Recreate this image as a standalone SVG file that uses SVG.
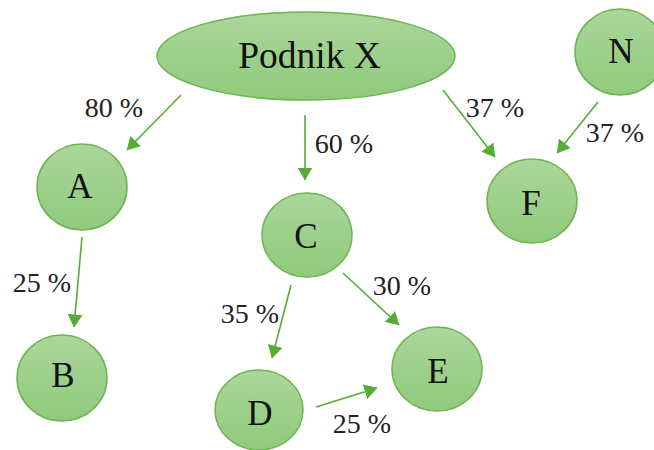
<svg xmlns="http://www.w3.org/2000/svg" width="654" height="450" viewBox="0 0 654 450">
<defs>
<linearGradient id="g" x1="0" y1="0" x2="0" y2="1">
<stop offset="0" stop-color="#acd69b"/>
<stop offset="1" stop-color="#8fca7c"/>
</linearGradient>
<marker id="ah" viewBox="0 0 13 15" refX="12.5" refY="7.5" markerWidth="13" markerHeight="15" markerUnits="userSpaceOnUse" orient="auto">
<path d="M0,0 L13,7.5 L0,15 Z" fill="#55ad38"/>
</marker>
</defs>
<style>
.n{fill:url(#g);stroke:#6cb550;stroke-width:1.5}
.t{font-family:"Liberation Serif","DejaVu Serif",serif;font-size:35px;fill:#111;text-anchor:middle}
.px{font-size:37.5px}
.l{font-family:"Liberation Serif","DejaVu Serif",serif;font-size:28px;fill:#222;text-anchor:middle}
.c line{stroke:#55ad38;stroke-width:1.6;marker-end:url(#ah)}
</style>
<rect width="654" height="450" fill="#fff"/>
<g id="podnikX"><ellipse class="n" cx="306" cy="56" rx="149" ry="44"/><text class="t px" x="309.5" y="68">Podnik X</text></g>
<g id="A"><ellipse class="n" cx="82" cy="187" rx="45" ry="43"/><text class="t" x="80" y="198">A</text></g>
<g id="B"><ellipse class="n" cx="62" cy="378" rx="45" ry="43"/><text class="t" x="63" y="387">B</text></g>
<g id="C"><ellipse class="n" cx="307" cy="235" rx="45" ry="42"/><text class="t" x="306" y="248">C</text></g>
<g id="D"><ellipse class="n" cx="259" cy="410" rx="44" ry="40"/><text class="t" x="260" y="425">D</text></g>
<g id="E"><ellipse class="n" cx="437" cy="369" rx="45" ry="42"/><text class="t" x="438" y="383">E</text></g>
<g id="F"><ellipse class="n" cx="532" cy="201" rx="45" ry="42"/><text class="t" x="531" y="215">F</text></g>
<g id="N"><ellipse class="n" cx="620" cy="52" rx="45" ry="43"/><text class="t" x="621" y="63">N</text></g>
<g id="connectors" class="c">
<line x1="181" y1="95" x2="127" y2="150"/>
<line x1="82" y1="237" x2="74" y2="327"/>
<line x1="305" y1="115" x2="305" y2="180"/>
<line x1="291" y1="285" x2="272" y2="358"/>
<line x1="343" y1="273" x2="399" y2="325"/>
<line x1="316" y1="407" x2="377" y2="388"/>
<line x1="443" y1="90" x2="495" y2="157"/>
<line x1="598" y1="102" x2="557" y2="153"/>
</g>
<g id="labels">
<text class="l" x="114" y="117">80 %</text>
<text class="l" x="42" y="292">25 %</text>
<text class="l" x="344" y="153">60 %</text>
<text class="l" x="250" y="323">35 %</text>
<text class="l" x="402" y="295">30 %</text>
<text class="l" x="362" y="433">25 %</text>
<text class="l" x="495" y="117">37 %</text>
<text class="l" x="615" y="142">37 %</text>
</g>
</svg>
